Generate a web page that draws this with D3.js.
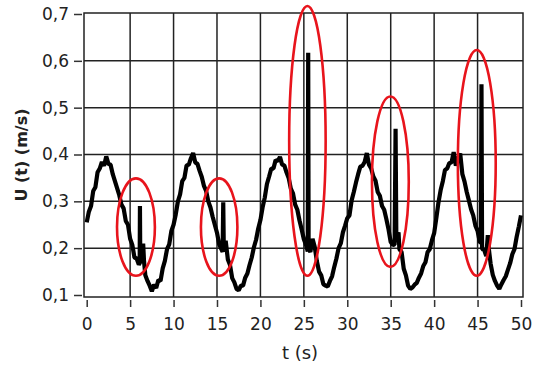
<!DOCTYPE html>
<html>
    <head>
        <script src="https://cdn.jsdelivr.net/npm/d3@7"></script>
        <style>
            body { margin: 0; background: #fff; }
            text { font-family: "DejaVu Sans", Verdana, sans-serif; fill: #222; }
        </style>
    </head>
    <body>
        <svg id="chart" width=534 height=369></svg>
        <script>
            // Data
            var time = [
                0,0.25,0.5,0.75,1,1.25,1.5,1.75,2,2.25,2.5,2.75,3,3.25,3.5,3.75,4,4.25,4.5,4.75,5,5.25,5.5,5.75,6,
                6.1,6.13,6.17,6.25,6.5,6.6,6.75,7,7.25,7.5,7.75,8,8.25,8.5,8.75,9,9.25,9.5,9.75,
                10,10.25,10.5,10.75,11,11.25,11.5,11.75,12,12.25,12.5,12.75,13,13.25,13.5,13.75,14,14.25,14.5,14.75,15,15.25,15.5,
                15.65,15.72,15.78,16,16.25,16.5,16.75,17,17.25,17.5,17.75,18,18.25,18.5,18.75,19,19.25,19.5,19.75,
                20,20.25,20.5,20.75,21,21.25,21.5,21.75,22,22.25,22.5,22.75,23,23.25,23.5,23.75,24,24.25,24.5,24.75,25,25.25,
                25.45,25.5,25.55,25.75,26,26.25,26.5,26.75,27,27.25,27.5,27.75,28,28.25,28.5,28.75,29,29.25,29.5,29.75,
                30,30.25,30.5,30.75,31,31.25,31.5,31.75,32,32.25,32.5,32.75,33,33.25,33.5,33.75,34,34.25,34.5,34.75,35,35.25,
                35.45,35.56,35.65,35.9,36,36.25,36.5,36.75,37,37.25,37.5,37.75,38,38.25,38.5,38.75,39,39.25,39.5,39.75,
                40,40.25,40.5,40.75,41,41.25,41.5,41.75,42,42.25,42.5,42.75,43,43.25,43.5,43.75,44,44.25,44.5,44.75,45,45.25,
                45.38,45.45,45.52,45.75,46,46.18,46.3,46.5,46.75,47,47.25,47.5,47.75,48,48.25,48.5,48.75,49,49.25,49.5,49.75,50
            ];
            var velocity = [
                0.255,0.278,0.29,0.322,0.33,0.362,0.37,0.384,0.376,0.396,0.38,0.378,0.358,0.343,0.328,0.313,0.293,0.285,0.258,0.25,0.22,0.207,0.18,0.178,0.165,
                0.168,0.29,0.168,0.175,0.21,0.172,0.142,0.13,0.12,0.108,0.122,0.115,0.132,0.13,0.157,0.173,0.198,0.208,0.237,
                0.25,0.272,0.3,0.315,0.343,0.35,0.377,0.378,0.392,0.403,0.383,0.38,0.365,0.352,0.333,0.322,0.3,0.287,0.267,0.25,0.233,0.208,0.198,
                0.192,0.298,0.205,0.216,0.176,0.164,0.136,0.127,0.113,0.11,0.12,0.12,0.137,0.146,0.164,0.18,0.202,0.218,0.242,
                0.26,0.287,0.308,0.337,0.353,0.37,0.37,0.388,0.386,0.395,0.378,0.377,0.362,0.35,0.327,0.317,0.293,0.282,0.259,0.24,0.219,0.207,
                0.193,0.617,0.198,0.192,0.22,0.203,0.172,0.15,0.142,0.123,0.12,0.118,0.13,0.14,0.16,0.178,0.2,0.21,0.234,0.248,
                0.264,0.27,0.302,0.32,0.34,0.358,0.374,0.376,0.384,0.403,0.378,0.37,0.353,0.344,0.32,0.312,0.29,0.282,0.262,0.24,0.213,0.207,
                0.208,0.455,0.213,0.234,0.198,0.192,0.156,0.142,0.12,0.113,0.116,0.122,0.126,0.137,0.146,0.162,0.17,0.192,0.198,0.217,
                0.232,0.264,0.298,0.324,0.343,0.367,0.37,0.382,0.383,0.405,0.376,0.392,0.402,0.358,0.342,0.32,0.302,0.283,0.27,0.248,0.237,0.213,
                0.212,0.55,0.198,0.197,0.183,0.228,0.198,0.167,0.143,0.13,0.12,0.113,0.123,0.132,0.14,0.154,0.168,0.187,0.198,0.224,0.246,0.27
            ];

            // Red ellipses marking the peaks (centre and half sizes in data units)
            var markT = [5.67, 15.25, 25.41, 34.96, 44.91];
            var markU = [0.245, 0.245, 0.429, 0.342, 0.382];
            var markHalfT = [2.18, 2.1, 2.1, 2.12, 2.18];
            var markHalfU = [0.104, 0.104, 0.288, 0.182, 0.241];

            var xTicks = [0, 5, 10, 15, 20, 25, 30, 35, 40, 45, 50];
            var yTicks = [0.1, 0.2, 0.3, 0.4, 0.5, 0.6, 0.7];
            var yTickLabels = ["0,1", "0,2", "0,3", "0,4", "0,5", "0,6", "0,7"];

            var svg = d3.select("svg#chart");
            var frame = {left: 84, right: 523, top: 13, bottom: 297};

            var x = d3.scaleLinear().domain([0, 50]).range([86.7, 521]);
            var y = d3.scaleLinear().domain([0.1, 0.7]).range([295, 14]);

            // Grid
            svg.append("g").selectAll("line").data(xTicks.slice(1, -1)).enter().append("line")
                .attr("x1", function(d) { return x(d); }).attr("x2", function(d) { return x(d); })
                .attr("y1", frame.top).attr("y2", frame.bottom)
                .attr("stroke", "#222").attr("stroke-width", 1.5);
            svg.append("g").selectAll("line").data(yTicks.slice(1, -1)).enter().append("line")
                .attr("x1", frame.left).attr("x2", frame.right)
                .attr("y1", function(d) { return y(d); }).attr("y2", function(d) { return y(d); })
                .attr("stroke", "#222").attr("stroke-width", 1.5);

            // Axes (ticks sit outside the frame)
            var xAxis = d3.axisBottom(x).tickValues(xTicks).tickSize(7).tickPadding(11);
            var yAxis = d3.axisLeft(y).tickValues(yTicks).tickSize(8).tickPadding(5)
                .tickFormat(function(d, i) { return yTickLabels[i]; });

            var gx = svg.append("g").attr("transform", "translate(0," + (frame.bottom + 3) + ")").call(xAxis);
            var gy = svg.append("g").attr("transform", "translate(" + (frame.left - 2) + ",0)").call(yAxis);
            [gx, gy].forEach(function(g) {
                g.select(".domain").remove();
                g.selectAll(".tick line").attr("stroke", "#333").attr("stroke-width", 1.5);
                g.selectAll(".tick text").style("font-size", "17px").attr("fill", "#222");
            });

            // Line
            svg.append("path").datum(d3.zip(time, velocity))
                .attr("fill", "none").attr("stroke", "#000").attr("stroke-width", 4.2)
                .attr("stroke-linejoin", "bevel")
                .attr("d", d3.line().x(function(d) { return x(d[0]); }).y(function(d) { return y(d[1]); }));

            // Frame
            svg.append("rect").attr("x", frame.left).attr("y", frame.top)
                .attr("width", frame.right - frame.left).attr("height", frame.bottom - frame.top)
                .attr("fill", "none").attr("stroke", "#222").attr("stroke-width", 1.5);

            // Ellipses
            svg.append("g").selectAll("ellipse").data(markT).enter().append("ellipse")
                .attr("cx", function(d) { return x(d); })
                .attr("cy", function(d, i) { return y(markU[i]); })
                .attr("rx", function(d, i) { return x(markHalfT[i]) - x(0); })
                .attr("ry", function(d, i) { return y(0.1) - y(0.1 + markHalfU[i]); })
                .attr("fill", "none").attr("stroke", "#e8141c").attr("stroke-width", 2.6);

            // Labels
            svg.append("text").attr("x", 300).attr("y", 359).attr("text-anchor", "middle")
                .style("font-size", "18px").text("t (s)");
            svg.append("text").attr("transform", "translate(27,155) rotate(-90)").attr("text-anchor", "middle")
                .style("font-size", "16px").style("font-weight", "bold").text("U (t) (m/s)");
        </script>
    </body>
</html>
